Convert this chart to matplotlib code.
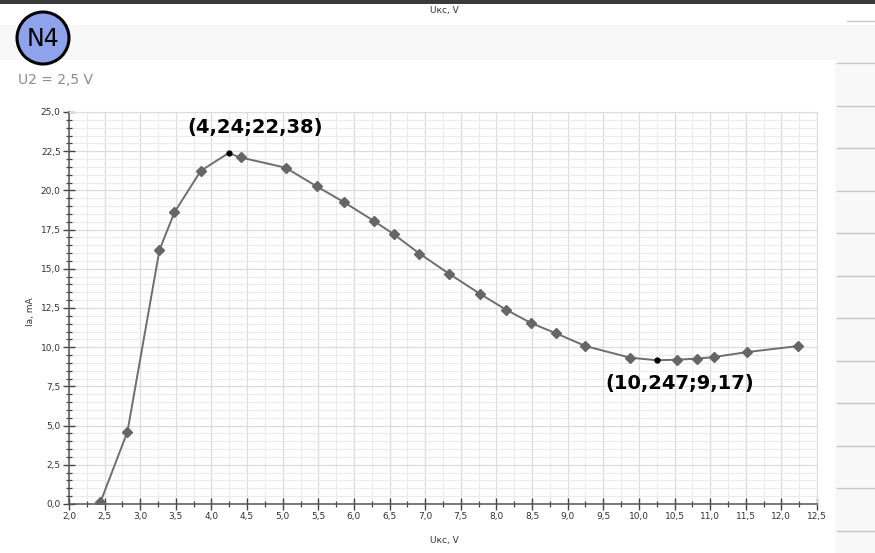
import matplotlib
matplotlib.use("Agg")
import matplotlib.pyplot as plt
from matplotlib.patches import Ellipse, Rectangle
from matplotlib.lines import Line2D
from matplotlib.ticker import MultipleLocator, FuncFormatter

# ---- data ----
u_kc = [2.44, 2.82, 3.27, 3.48, 3.85, 4.24, 4.41, 5.04, 5.48, 5.86, 6.28, 6.56,
        6.92, 7.33, 7.77, 8.14, 8.49, 8.84, 9.25, 9.88, 10.247, 10.53, 10.81,
        11.05, 11.52, 12.23]
i_a = [0.1, 4.6, 16.2, 18.6, 21.25, 22.38, 22.1, 21.45, 20.25, 19.25, 18.05,
       17.2, 15.97, 14.7, 13.4, 12.38, 11.53, 10.88, 10.07, 9.33, 9.17, 9.2,
       9.27, 9.37, 9.69, 10.07]
special_idx = [5, 20]
annotations = ["(4,24;22,38)", "(10,247;9,17)"]
subtitle = "U2 = 2,5 V"
x_label = "Uкс, V"
y_label = "Ia, mA"

W, H = 875, 553
fig = plt.figure(figsize=(W / 100, H / 100), dpi=100)
fig.patch.set_facecolor("white")

def fx(px):
    return px / W

def fy(py):
    return 1 - py / H

# background decorations
fig.patches.append(Rectangle((0, fy(4)), 1, 4 / H, transform=fig.transFigure,
                             facecolor="#3a3a3a", edgecolor="none", zorder=0))
fig.patches.append(Rectangle((0, fy(60)), fx(845), 35 / H, transform=fig.transFigure,
                             facecolor="#f8f8f8", edgecolor="none", zorder=0))
fig.patches.append(Rectangle((fx(835), 0), 1 - fx(835), fy(25), transform=fig.transFigure,
                             facecolor="#f8f8f8", edgecolor="none", zorder=0))
for py in [21, 63, 106, 148, 191, 233, 276, 318, 361, 403, 446, 488, 531]:
    x0 = 847 if py == 21 else 837
    fig.lines.append(Line2D([fx(x0), 1], [fy(py), fy(py)], transform=fig.transFigure,
                            color="#c8c8c8", lw=1.0))

# header text
fig.text(fx(444), fy(10), x_label, ha="center", va="center", fontsize=6.5, color="#333333")

# logo
fig.patches.append(Ellipse((fx(43), fy(38)), width=52 / W, height=52 / H,
                           transform=fig.transFigure, facecolor="#8fa3ec",
                           edgecolor="black", lw=2.2, zorder=2))
fig.text(fx(43), fy(39), "N4", ha="center", va="center", fontsize=17,
         color="black", zorder=3)

fig.text(fx(18), fy(80), subtitle, ha="left", va="center", fontsize=10, color="#8a8a8a")

# axes
ax = fig.add_axes([fx(69), fy(504), fx(817) - fx(69), (504 - 112) / H])
ax.set_xlim(2.0, 12.5)
ax.set_ylim(0, 25)
ax.xaxis.set_major_locator(MultipleLocator(0.5))
ax.xaxis.set_minor_locator(MultipleLocator(0.25))
ax.yaxis.set_major_locator(MultipleLocator(2.5))
ax.yaxis.set_minor_locator(MultipleLocator(0.5))
fmt = FuncFormatter(lambda v, p: f"{v:.1f}".replace(".", ","))
ax.xaxis.set_major_formatter(fmt)
ax.yaxis.set_major_formatter(fmt)
ax.grid(which="major", color="#dcdcdc", lw=0.9)
ax.grid(which="minor", color="#ececec", lw=0.8)
ax.set_axisbelow(True)
for s in ["top", "right"]:
    ax.spines[s].set_color("#dcdcdc")
for s in ["left", "bottom"]:
    ax.spines[s].set_color("#555555")
    ax.spines[s].set_linewidth(1.1)
ax.tick_params(which="major", direction="inout", length=8, width=1, color="#444444",
               labelsize=6.5, labelcolor="#333333", pad=2)
ax.tick_params(which="minor", direction="inout", length=5, width=0.9, color="#444444")

ax.plot(u_kc, i_a, color="#6e6e6e", lw=1.4, zorder=3)
mx = [x for i, x in enumerate(u_kc) if i not in special_idx]
my = [y for i, y in enumerate(i_a) if i not in special_idx]
ax.plot(mx, my, linestyle="none", marker="D", ms=5.5, color="#666666", zorder=4)
sx = [u_kc[i] for i in special_idx]
sy = [i_a[i] for i in special_idx]
ax.plot(sx, sy, linestyle="none", marker="o", ms=3.5, color="black", zorder=5)

ax.annotate(annotations[0], (sx[0], sy[0]), xytext=(fx(255), fy(127)),
            textcoords="figure fraction", ha="center", va="center",
            fontsize=14, fontweight="bold", color="black")
ax.annotate(annotations[1], (sx[1], sy[1]), xytext=(fx(680), fy(383)),
            textcoords="figure fraction", ha="center", va="center",
            fontsize=14, fontweight="bold", color="black")

fig.text(fx(444), fy(540), x_label, ha="center", va="center", fontsize=6.5, color="#333333")
fig.text(fx(30), fy(312), y_label, ha="center", va="center", rotation=90, fontsize=6.5,
         color="#333333")

fig.savefig("out.png", dpi=100)
